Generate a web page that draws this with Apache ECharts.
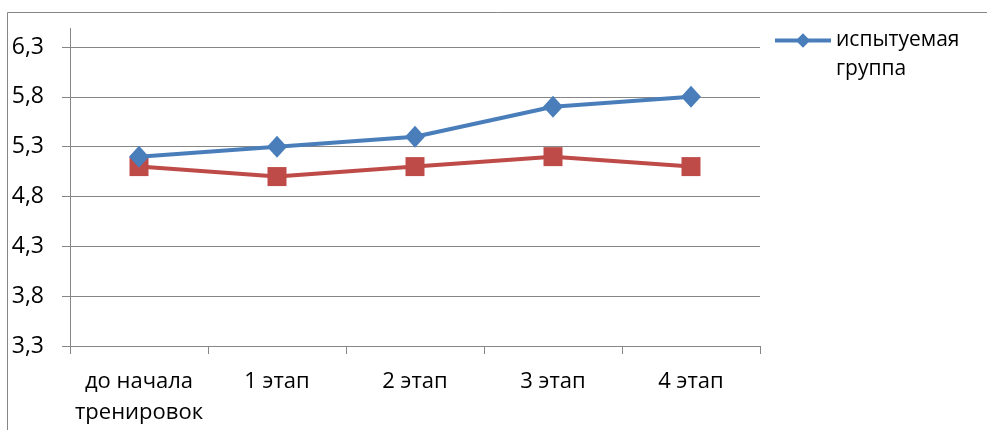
<!DOCTYPE html>
<html style="height: 100%">
<head>
    <meta charset="utf-8">
    <title>испытуемая группа</title>
    <style>
        html, body { margin: 0; height: 100%; background: #fff; }
        #container { width: 987px; height: 430px; }
    </style>
</head>
<body>
    <div id="container"></div>
    <script src="https://cdn.jsdelivr.net/npm/echarts@6/dist/echarts.min.js"></script>
    <script>
        // данные графика
        var stages = ['до начала\nтренировок', '1 этап', '2 этап', '3 этап', '4 этап'];
        var testGroup = [5.2, 5.3, 5.4, 5.7, 5.8];
        var controlGroup = [5.1, 5.0, 5.1, 5.2, 5.1];
        var yMin = 3.3, yMax = 6.3, yStep = 0.5;

        var axisGray = '#868686';
        var font = 'Open Sans';

        var myChart = echarts.init(document.getElementById('container'));
        var option = {
            animation: false,
            backgroundColor: '#fff',
            grid: { left: 70, right: 227, top: 47, bottom: 84, containLabel: false },
            legend: {
                data: ['испытуемая группа'],
                left: 773,
                top: -3,
                padding: 0,
                itemWidth: 56,
                itemHeight: 18,
                itemGap: 4,
                lineStyle: { width: 4 },
                textStyle: { fontFamily: font, fontSize: 21, color: '#000', lineHeight: 29 },
                // пустая первая строка: значок встаёт на уровень первой строки подписи
                formatter: function (name) { return '\n' + name.replace(' ', '\n'); }
            },
            graphic: [
                // рамка диаграммы (видны только верх и левый край)
                { type: 'rect', shape: { x: 7.5, y: 12.5, width: 1200, height: 600 }, style: { fill: 'none', stroke: axisGray, lineWidth: 1 }, silent: true },
                // продолжение оси Y над последней линией сетки
                { type: 'line', shape: { x1: 70.5, y1: 28, x2: 70.5, y2: 47 }, style: { stroke: axisGray, lineWidth: 1 }, silent: true }
            ],
            xAxis: {
                type: 'category',
                data: stages,
                boundaryGap: true,
                axisLine: { lineStyle: { color: axisGray, width: 1 } },
                axisTick: { show: true, length: 8, lineStyle: { color: axisGray } },
                axisLabel: { color: '#000', fontFamily: font, fontSize: 22, margin: 20, lineHeight: 31, interval: 0 },
                splitLine: { show: false }
            },
            yAxis: {
                type: 'value',
                min: yMin,
                max: yMax,
                interval: yStep,
                axisLine: { show: true, lineStyle: { color: axisGray, width: 1 } },
                axisTick: { show: true, length: 8, lineStyle: { color: axisGray } },
                axisLabel: {
                    color: '#000', fontFamily: font, fontSize: 23, margin: 26,
                    formatter: function (v) { return v.toFixed(1).replace('.', ','); }
                },
                splitLine: { show: true, lineStyle: { color: axisGray, width: 1 } }
            },
            series: [
                {
                    name: 'испытуемая группа',
                    type: 'line',
                    data: testGroup,
                    symbol: 'diamond',
                    symbolSize: [20, 22],
                    color: '#4A7EBB',
                    lineStyle: { width: 4, color: '#4A7EBB' },
                    itemStyle: { color: '#4A7EBB' },
                    z: 3
                },
                {
                    name: 'контрольная группа',
                    type: 'line',
                    data: controlGroup,
                    symbol: 'rect',
                    symbolSize: 19,
                    color: '#BE4B48',
                    lineStyle: { width: 4, color: '#BE4B48' },
                    itemStyle: { color: '#BE4B48' },
                    z: 2
                }
            ]
        };
        myChart.setOption(option);
    </script>
</body>
</html>
